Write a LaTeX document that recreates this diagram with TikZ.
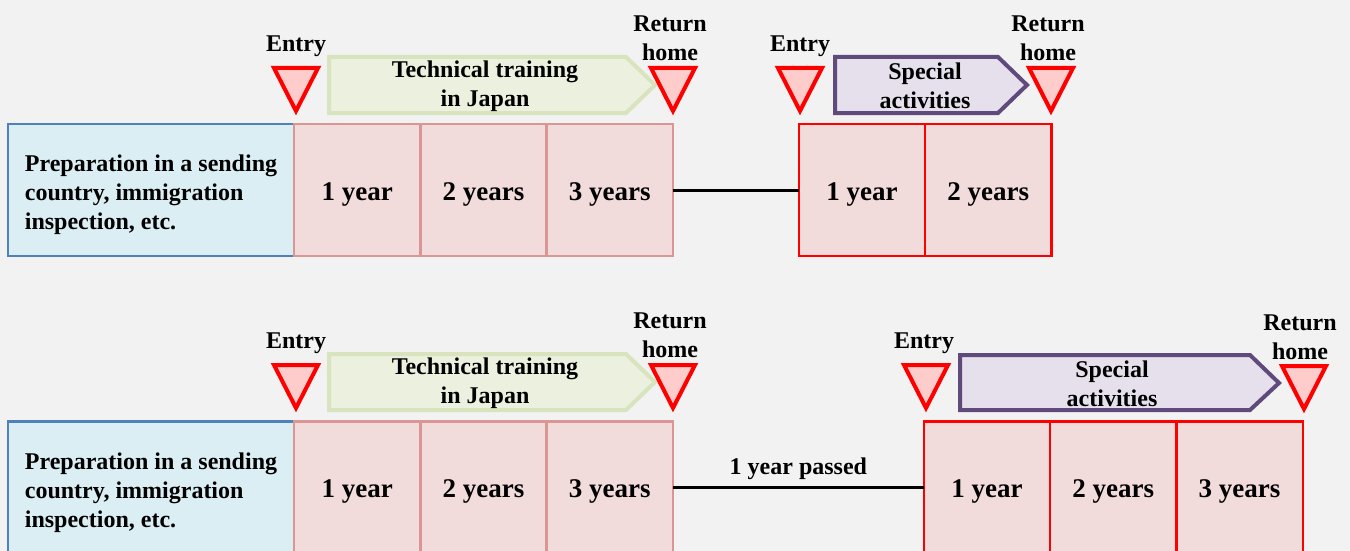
\documentclass[tikz,border=0pt]{standalone}
\usepackage{fontspec}
\setmainfont{Liberation Serif}
\usetikzlibrary{positioning}

\definecolor{bggray}{HTML}{F2F2F2}
\definecolor{prepfill}{HTML}{DBEEF4}
\definecolor{prepline}{HTML}{4F81BD}
\definecolor{yearfill}{HTML}{F2DCDB}
\definecolor{yearline}{HTML}{D99694}
\definecolor{markfill}{HTML}{FFCCCC}
\definecolor{trainfill}{HTML}{EBF1DE}
\definecolor{trainline}{HTML}{D7E4BD}
\definecolor{specfill}{HTML}{E6E0EC}
\definecolor{specline}{HTML}{604A7B}

\tikzset{
  txt/.style={font=\bfseries\fontsize{24}{29}\selectfont, align=center, inner sep=0pt},
  prepbox/.style={txt, draw=prepline, fill=prepfill, line width=2.5pt, outer sep=0pt,
    minimum width=286pt, minimum height=132pt, align=left},
  yearbox/.style={txt, font=\bfseries\fontsize{27}{32}\selectfont, draw=yearline, fill=yearfill,
    line width=2.5pt, outer sep=0pt, minimum width=126.3pt, minimum height=132pt,
    text height=22pt, text depth=2pt},
  spbox/.style={yearbox, draw=red},
  dropmark/.style={draw=red, fill=markfill, line width=4pt},
  trainarrow/.style={draw=trainline, fill=trainfill, line width=4pt},
  specarrow/.style={draw=specline, fill=specfill, line width=4pt},
  link/.style={line width=3pt}
}
% downward triangle, apex at #1
\def\dropat(#1){\draw[dropmark, shift={(#1)}] (-22,-46) -- (22,-46) -- (0,-3) -- cycle;}
\def\preptext{\rule{0pt}{27pt}Preparation in a sending\\country, immigration\\inspection, etc.}

\begin{document}
\begin{tikzpicture}[x=1pt, y=-1pt]
    %%%%% START %%%%%
    \fill[bggray] (0,0) rectangle (1350,551);
    \clip (0,0) rectangle (1350,551);

    % first round
    \draw[trainarrow] (329,57) -- (626,57) -- (655,85) -- (626,113) -- (329,113) -- cycle;
    \node[txt] (trainA) at (485,86) {Technical training\\in Japan};
    \draw[specarrow] (835,57) -- (998,57) -- (1027,85) -- (998,113) -- (835,113) -- cycle;
    \node[txt] (specA) at (925,86) {Special\\activities};

    \dropat(296,114)
    \dropat(673,114)
    \dropat(800,114)
    \dropat(1051,114)
    \node[txt] (inA1) at (296,46) {Entry};
    \node[txt] (outA1) at (670,38) {Return\\home};
    \node[txt] (inA2) at (800,46) {Entry};
    \node[txt] (outA2) at (1048,38) {Return\\home};

    \node[prepbox] (prepA) at (151,190) {\preptext};
    \node[yearbox, right=0pt of prepA] (trA1) {1 year};
    \node[yearbox, right=0pt of trA1] (trA2) {2 years};
    \node[yearbox, right=0pt of trA2] (trA3) {3 years};
    \node[spbox] (spA1) at (862,190) {1 year};
    \node[spbox, right=0pt of spA1] (spA2) {2 years};
    \draw[link] (trA3) -- (spA1);

    % second round
    \draw[trainarrow] (329,354) -- (626,354) -- (655,382) -- (626,410) -- (329,410) -- cycle;
    \node[txt] (trainB) at (485,383) {Technical training\\in Japan};
    \draw[specarrow] (960,355) -- (1250,355) -- (1279,383) -- (1250,410) -- (960,410) -- cycle;
    \node[txt] (specB) at (1112,384) {Special\\activities};

    \dropat(296,411)
    \dropat(673,411)
    \dropat(926,411)
    \dropat(1304,412)
    \node[txt] (inB1) at (296,343) {Entry};
    \node[txt] (outB1) at (670,335) {Return\\home};
    \node[txt] (inB2) at (924,343) {Entry};
    \node[txt] (outB2) at (1300,337) {Return\\home};

    \node[prepbox] (prepB) at (151,487.5) {\preptext};
    \node[yearbox, right=0pt of prepB] (trB1) {1 year};
    \node[yearbox, right=0pt of trB1] (trB2) {2 years};
    \node[yearbox, right=0pt of trB2] (trB3) {3 years};
    \node[spbox] (spB1) at (987,487.5) {1 year};
    \node[spbox, right=0pt of spB1] (spB2) {2 years};
    \node[spbox, right=0pt of spB2] (spB3) {3 years};
    \draw[link] (trB3) -- node[txt, above=6pt] (gap) {1 year passed} (spB1);
    %%%%% END %%%%%
\end{tikzpicture}
\end{document}
